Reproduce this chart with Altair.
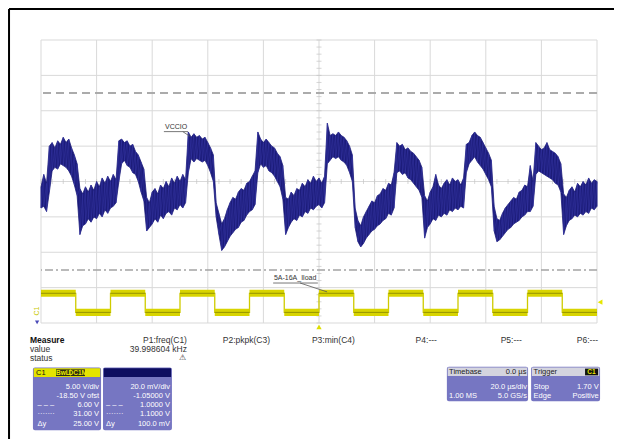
import altair as alt
import pandas as pd

FONT = "Liberation Sans"

# ---------------- data ----------------
# C3 = VCCIO (20 mV/div, offset -1.05 V): envelope of the noisy trace, mV around 1.05 V, one sample per µs
time_us = list(range(-100, 101))
vccio_top_mv = [
    -3, 4, -1, 20, 22, 19, 23, 21, 25, 22, 24, 19, 15, 10,
    -4, -7, -3, -6, -2, -5, 0, -3, 2, -1, 3, 0, 4, 1,
    23, 24, 22, 23, 20, 21, 17, 15, 11, 7,
    -9, -12, -6, -4, -7, -2, -4, 0, -3, 2, -1, 3, 0, 4, 1,
    28, 25, 27, 25, 26, 24, 25, 22, 19, 15,
    -12, -18, -24, -21, -16, -12, -9, -10, -6, -4, -5, -1, 0, 3, 6,
    28, 24, 22, 24, 22, 20, 19, 16, 14, 9,
    -9, -10, -6, -8, -4, -5, -1, -3, 1, -1, 3, 0, 2, -1, 3,
    33, 26, 27, 26, 28, 26, 25, 23, 20, 15,
    -15, -22, -25, -20, -17, -14, -11, -12, -8, -7, -4, -5, -1, -2, 5,
    22, 20, 21, 18, 19, 17, 16, 14, 12, 8,
    -8, -11, -6, -3, 4, -2, -4, -1, 1, -2, 2, 0, 1, -2, 2,
    21, 22, 26, 28, 26, 25, 22, 19, 16, 12,
    -14, -21, -22, -18, -15, -13, -11, -9, -10, -6, -5, -2, -3, 9, 0,
    22, 20, 18, 19, 22, 18, 17, 16, 14, 10,
    -7, -9, -5, -3, -6, -1, -3, 0, -2, 2, -1, 1, 0,
]
vccio_bot_mv = [
    -15, -14, -17, -6, 6, 8, 7, 10, 9, 8, 6, 3, -2, -8,
    -30, -25, -24, -21, -23, -20, -21, -18, -20, -16, -18, -15, -14, -12,
    0, 10, 12, 9, 8, 5, 4, 0, -6, -11,
    -28, -26, -24, -21, -23, -19, -21, -18, -17, -19, -15, -16, -13, -15, -12,
    5, 13, 11, 13, 12, 11, 12, 9, 5, 0,
    -20, -30, -39, -37, -34, -31, -29, -27, -26, -23, -22, -19, -17, -16, -13,
    5, 10, 8, 9, 6, 5, 3, 0, -3, -10,
    -30, -26, -23, -21, -22, -19, -20, -17, -18, -15, -16, -14, -13, -15, -12,
    10, 12, 14, 13, 14, 12, 11, 9, 5, 0,
    -26, -34, -37, -35, -32, -30, -28, -27, -25, -24, -22, -21, -18, -19, -15,
    5, 6, 4, 5, 2, 1, -1, -3, -5, -9,
    -32, -26, -24, -21, -22, -19, -20, -18, -19, -16, -17, -15, -16, -14, -15,
    5, 10, 12, 14, 11, 9, 7, 4, 1, -3,
    -28, -34, -33, -31, -29, -27, -26, -24, -23, -22, -20, -19, -17, -17, -14,
    4, 6, 5, 4, 3, 2, 1, -1, -2, -6,
    -30, -25, -22, -21, -19, -20, -18, -19, -17, -18, -15, -16, -14,
]
C3_MV_PER_DIV = 20.0
C3_OFFSET_V = 1.05

# C3 cursors (V)
cursor_dashed_v = 1.1
cursor_dashdot_v = 1.0

# C1 = 5A-16A load-step command (5 V/div, offset -18.50 V)
c1_edges_us = [-100, -87.5, -75, -62.5, -50, -37.5, -25, -12.5, 0,
               12.5, 25, 37.5, 50, 62.5, 75, 87.5, 100]
c1_levels_v = [2.7, 0.0, 2.7, 0.0, 2.7, 0.0, 2.7, 0.0,
               2.7, 0.0, 2.7, 0.0, 2.7, 0.0, 2.7, 0.0]
C1_V_PER_DIV = 5.0
C1_OFFSET_V = -18.5
C1_HALF_BAND_V = 0.5

# graticule (20 µs/div, 8 vertical divisions)
grid_x_us = [-100, -80, -60, -40, -20, 0, 20, 40, 60, 80, 100]
grid_y_div = [-4, -3, -2, -1, 0, 1, 2, 3, 4]
minor_x_us = list(range(-100, 101, 4))
minor_y_div = [i / 5 for i in range(-20, 21)]

# readout texts
measure_heads = ["P1:freq(C1)", "P2:pkpk(C3)", "P3:min(C4)", "P4:---", "P5:---", "P6:---"]
measure_value = "39.998604 kHz"
c1_rows = ["5.00 V/div", "-18.50 V ofst", "6.00 V", "31.00 V", "25.00 V"]
c3_rows = ["20.0 mV/div", "-1.05000 V", "1.0000 V", "1.1000 V", "100.0 mV"]
row_tags = ["", "", "– – –", "·······", "Δy"]

# ---------------- layout (graticule units: µs across, divisions up) ----------------
meas_col_right = [-47.5, -17.6, 12.9, 42.4, 73.0, 100.4]
meas_rows_d = [-4.48, -4.74, -4.99]
box_rows_d = [-5.80, -6.06, -6.32, -6.58, -6.86]

GRID = "#d9d9d9"
BLUE = "#1c1c7a"
YEL = "#d8d400"
BOXC = "#7676c2"


def xs():
    return alt.Scale(domain=[-100, 100], nice=False, zero=False)


def ys():
    return alt.Scale(domain=[-4, 4], nice=False, zero=False)


def X(f):
    return alt.X(f, type="quantitative", scale=xs(), axis=None)


def Y(f):
    return alt.Y(f, type="quantitative", scale=ys(), axis=None)


def segs(df, color, width=1.0, dash=None):
    kw = dict(color=color, strokeWidth=width)
    if dash:
        kw["strokeDash"] = dash
    return alt.Chart(df).mark_rule(**kw).encode(
        x=X("t"), x2=alt.X2("t2"), y=Y("d"), y2=alt.Y2("d2"))


layers = []

# outer frame of the figure
frame = pd.DataFrame({"t": [-111.5, -111.5], "t2": [106.5, -111.5],
                      "d": [4.876, 4.876], "d2": [4.876, -7.31]})
layers.append(segs(frame, "black", 2))

# graticule
layers.append(alt.Chart(pd.DataFrame({"t": grid_x_us})).mark_rule(color=GRID, strokeWidth=1)
              .encode(x=X("t")))
layers.append(alt.Chart(pd.DataFrame({"d": grid_y_div})).mark_rule(color=GRID, strokeWidth=1)
              .encode(y=Y("d")))
layers.append(alt.Chart(pd.DataFrame({"t": minor_x_us, "d": 0.0})).mark_tick(
    orient="vertical", size=5, thickness=1, color="#c4c4c4").encode(x=X("t"), y=Y("d")))
layers.append(alt.Chart(pd.DataFrame({"t": 0.0, "d": minor_y_div})).mark_tick(
    orient="horizontal", size=5, thickness=1, color="#c4c4c4").encode(x=X("t"), y=Y("d")))

# cursors
cur = pd.DataFrame({"d": [(cursor_dashed_v - C3_OFFSET_V) * 1000 / C3_MV_PER_DIV]})
layers.append(alt.Chart(cur).mark_rule(color="#ababab", strokeWidth=2, strokeDash=[8, 5])
              .encode(y=Y("d")))
cur2 = pd.DataFrame({"d": [(cursor_dashdot_v - C3_OFFSET_V) * 1000 / C3_MV_PER_DIV]})
layers.append(alt.Chart(cur2).mark_rule(color="#a4a4a4", strokeWidth=1.5, strokeDash=[8, 3, 2, 3])
              .encode(y=Y("d")))

# C1 yellow square wave
c1_div = [(v + C1_OFFSET_V) / C1_V_PER_DIV for v in c1_levels_v]
step = pd.DataFrame({"t": c1_edges_us, "d": c1_div + [c1_div[-1]]})
layers.append(alt.Chart(step).mark_line(interpolate="step-after", color="#cfcb00", strokeWidth=1.3)
              .encode(x=X("t"), y=Y("d")))
band = pd.DataFrame({
    "t": c1_edges_us[:-1], "t2": c1_edges_us[1:],
    "d": [(v - C1_HALF_BAND_V + C1_OFFSET_V) / C1_V_PER_DIV for v in c1_levels_v],
    "d2": [(v + C1_HALF_BAND_V + C1_OFFSET_V) / C1_V_PER_DIV for v in c1_levels_v],
    "m": c1_div,
})
layers.append(alt.Chart(band).mark_rect(color=YEL).encode(
    x=X("t"), x2=alt.X2("t2"), y=Y("d"), y2=alt.Y2("d2")))
layers.append(alt.Chart(band).mark_rule(color="#959300", strokeWidth=1).encode(
    x=X("t"), x2=alt.X2("t2"), y=Y("m")))

# C3 VCCIO trace: envelope + the trace sweeping between its extremes
vcc = pd.DataFrame({"t": time_us,
                    "top": [v / C3_MV_PER_DIV for v in vccio_top_mv],
                    "bot": [v / C3_MV_PER_DIV for v in vccio_bot_mv]})
layers.append(alt.Chart(vcc).mark_area(color=BLUE, stroke=BLUE, strokeWidth=0.8, opacity=1)
              .encode(x=X("t"), y=Y("top"), y2=alt.Y2("bot")))
sweep_rows = []
for i, (t, a, b) in enumerate(zip(time_us, vccio_top_mv, vccio_bot_mv)):
    sweep_rows.append((t, a / C3_MV_PER_DIV, 2 * i))
    sweep_rows.append((t, b / C3_MV_PER_DIV, 2 * i + 1))
sweep = pd.DataFrame(sweep_rows, columns=["t", "d", "o"])
layers.append(alt.Chart(sweep).mark_line(color="#3c3cae", strokeWidth=0.6, opacity=0.7)
              .encode(x=X("t"), y=Y("d"), order="o:Q"))

# trace labels: underline + leader lines
lead = pd.DataFrame({"t": [-55.8, -49.0, -16.5, -6.8], "t2": [-47.1, -46.5, -0.4, 2.9],
                     "d": [1.41, 1.41, -2.87, -2.87], "d2": [1.41, 1.28, -2.87, -3.12]})
layers.append(segs(lead, "#555555", 0.8))

# readout boxes
boxes = pd.DataFrame([
    (-102.9, -78.4, -5.26, -7.03, BOXC),
    (-77.7, -52.9, -5.26, -7.03, BOXC),
    (46.0, 75.2, -5.24, -6.21, BOXC),
    (76.3, 101.1, -5.24, -6.21, BOXC),
], columns=["t", "t2", "d", "d2", "fill"])
layers.append(alt.Chart(boxes).mark_rect(cornerRadius=2).encode(
    x=X("t"), x2=alt.X2("t2"), y=Y("d"), y2=alt.Y2("d2"), color=alt.Color("fill:N", scale=None)))
heads = pd.DataFrame([
    (-102.6, -78.7, -5.28, -5.53, "#e4e400"),
    (-77.4, -53.2, -5.28, -5.53, "#0d0d60"),
    (46.3, 74.9, -5.26, -5.50, "#d4d4de"),
    (76.6, 100.8, -5.26, -5.50, "#d4d4de"),
    (-94.6, -89.6, -5.31, -5.50, "#2b2b10"),
    (-89.4, -84.2, -5.31, -5.50, "#2b2b10"),
    (95.7, 100.4, -5.29, -5.48, "#111111"),
], columns=["t", "t2", "d", "d2", "fill"])
layers.append(alt.Chart(heads).mark_rect().encode(
    x=X("t"), x2=alt.X2("t2"), y=Y("d"), y2=alt.Y2("d2"), color=alt.Color("fill:N", scale=None)))

# markers
def marker(t, d, shape, color, size):
    return alt.Chart(pd.DataFrame({"t": [t], "d": [d]})).mark_point(
        shape=shape, filled=True, size=size, color=color, opacity=1).encode(x=X("t"), y=Y("d"))

layers.append(marker(101.1, -3.41, "triangle-left", "#e6e600", 30))
layers.append(marker(0.0, -4.11, "triangle-up", "#dede00", 28))
layers.append(marker(-101.4, -3.98, "triangle-down", "#4a4ab8", 18))

# texts
T = []  # (text, t, d, align, color, size, weight, angle)
DARK = "#333333"
T.append(("Measure", -104.0, meas_rows_d[0], "left", "#111111", 8.5, "bold", 0))
T.append(("value", -104.0, meas_rows_d[1], "left", DARK, 8.5, "normal", 0))
T.append(("status", -104.0, meas_rows_d[2], "left", DARK, 8.5, "normal", 0))
for h, r in zip(measure_heads, meas_col_right):
    T.append((h, r, meas_rows_d[0], "right", DARK, 8.5, "normal", 0))
T.append((measure_value, meas_col_right[0], meas_rows_d[1], "right", DARK, 8.5, "normal", 0))
T.append(("⚠", -48.0, meas_rows_d[2], "right", DARK, 8, "normal", 0))
T.append(("C1", -101.8, -5.41, "left", "#111111", 7.5, "normal", 0))
T.append(("BwL", -92.1, -5.41, "center", "#e8e800", 6.5, "bold", 0))
T.append(("DC1M", -86.8, -5.41, "center", "#e8e800", 6.5, "bold", 0))
for txt, tag, d in zip(c1_rows, row_tags, box_rows_d):
    T.append((txt, -79.1, d, "right", "white", 7.5, "normal", 0))
    if tag:
        T.append((tag, -101.3, d, "left", "white", 7.5, "normal", 0))
for txt, tag, d in zip(c3_rows, row_tags, box_rows_d):
    T.append((txt, -53.6, d, "right", "white", 7.5, "normal", 0))
    if tag:
        T.append((tag, -76.6, d, "left", "white", 7.5, "normal", 0))
T.append(("Timebase", 46.8, -5.38, "left", "#222222", 7.5, "normal", 0))
T.append(("0.0 µs", 74.6, -5.38, "right", "#222222", 7.5, "normal", 0))
T.append(("20.0 µs/div", 74.8, -5.80, "right", "white", 7.5, "normal", 0))
T.append(("1.00 MS", 46.8, -6.06, "left", "white", 7.5, "normal", 0))
T.append(("5.0 GS/s", 74.8, -6.06, "right", "white", 7.5, "normal", 0))
T.append(("Trigger", 77.2, -5.38, "left", "#222222", 7.5, "normal", 0))
T.append(("C1", 98.0, -5.38, "center", "#e8e800", 6.5, "bold", 0))
T.append(("Stop", 77.2, -5.80, "left", "white", 7.5, "normal", 0))
T.append(("1.70 V", 100.6, -5.80, "right", "white", 7.5, "normal", 0))
T.append(("Edge", 77.2, -6.06, "left", "white", 7.5, "normal", 0))
T.append(("Positive", 100.6, -6.06, "right", "white", 7.5, "normal", 0))
T.append(("VCCIO", -51.4, 1.55, "center", "#333333", 7, "normal", 0))
T.append(("5A-16A_Iload", -8.6, -2.74, "center", "#333333", 7, "normal", 0))
T.append(("C1", -101.6, -3.66, "center", "#c8c800", 7, "normal", 270))

tdf = pd.DataFrame(T, columns=["text", "t", "d", "align", "color", "size", "weight", "angle"])
for (al, sz, wt, an), g in tdf.groupby(["align", "size", "weight", "angle"]):
    layers.append(alt.Chart(g.reset_index(drop=True)).mark_text(
        align=al, baseline="middle", fontSize=float(sz), fontWeight=wt, angle=float(an), font=FONT
    ).encode(x=X("t"), y=Y("d"), text="text:N", color=alt.Color("color:N", scale=None)))

chart = alt.layer(*layers).properties(
    width=556, height=283,
    padding={"left": 33, "top": 32, "right": 17, "bottom": 116},
    autosize=alt.AutoSizeParams(type="none"),
    background="white",
).configure_view(strokeWidth=0)

chart.save("out.html", embed_options={"renderer": "svg", "actions": False})
